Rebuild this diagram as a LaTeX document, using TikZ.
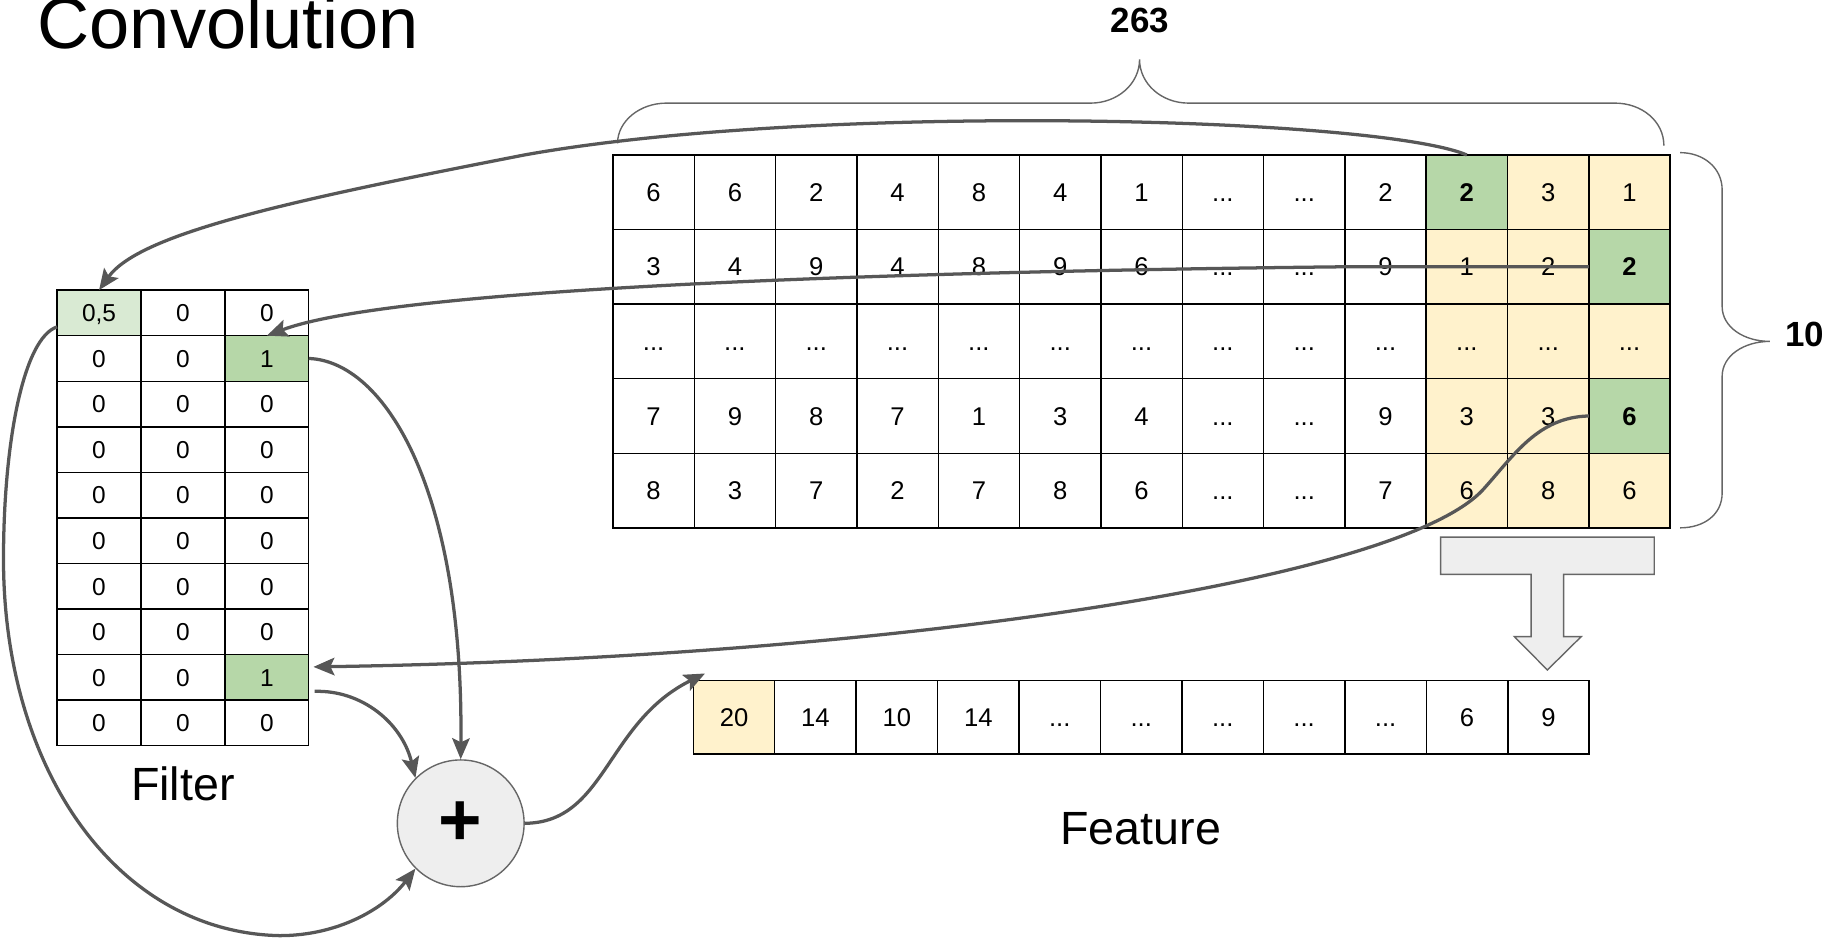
\documentclass[tikz,border=0pt]{standalone}
\usepackage{fontspec}
\setmainfont{Liberation Sans}
\usetikzlibrary{arrows.meta,calc}
\definecolor{hitgreen}{HTML}{B6D7A8}
\definecolor{softgreen}{HTML}{D9EAD3}
\definecolor{sand}{HTML}{FFF2CC}
\definecolor{lightgrey}{HTML}{EEEEEE}
\definecolor{edgegrey}{HTML}{666666}
\definecolor{wiregrey}{HTML}{575757}
\newcommand{\ddd}{...}
\tikzset{
  cell/.style={draw, line width=1.2pt, inner sep=0pt, outer sep=0pt},
  bigcell/.style={cell, minimum width=69.8pt, minimum height=64pt, text height=15.7pt, text depth=0pt, font=\fontsize{22}{22}\selectfont},
  smallcell/.style={cell, minimum width=72pt, minimum height=39.1pt, text height=15pt, text depth=0pt, font=\fontsize{21}{21}\selectfont},
  wc/.style={fill=white}, yc/.style={fill=sand}, gc/.style={fill=hitgreen}, lc/.style={fill=softgreen},
  wire/.style={draw=wiregrey, line width=2.8pt, -{Stealth[length=18pt,width=15pt,inset=3.5pt]}},
  bracket/.style={draw=edgegrey, line width=1.2pt},
  caption/.style={font=\fontsize{40}{40}\selectfont},
  sizelabel/.style={font=\fontsize{30}{30}\selectfont\bfseries, inner sep=0pt}
}
\begin{document}
\begin{tikzpicture}[x=1pt,y=-1pt]
            \useasboundingbox (0,0) rectangle (1568,805);
            \node[anchor=base west, inner sep=0pt, font=\fontsize{62}{62}\selectfont] (title) at (32,42) {Convolution};
            % input
            \foreach \rowlist [count=\r] in {
              {6/wc,6/wc,2/wc,4/wc,8/wc,4/wc,1/wc,\ddd/wc,\ddd/wc,2/wc,\textbf{2}/gc,3/yc,1/yc},
              {3/wc,4/wc,9/wc,4/wc,8/wc,9/wc,6/wc,\ddd/wc,\ddd/wc,9/wc,1/yc,2/yc,\textbf{2}/gc},
              {\ddd/wc,\ddd/wc,\ddd/wc,\ddd/wc,\ddd/wc,\ddd/wc,\ddd/wc,\ddd/wc,\ddd/wc,\ddd/wc,\ddd/yc,\ddd/yc,\ddd/yc},
              {7/wc,9/wc,8/wc,7/wc,1/wc,3/wc,4/wc,\ddd/wc,\ddd/wc,9/wc,3/yc,3/yc,\textbf{6}/gc},
              {8/wc,3/wc,7/wc,2/wc,7/wc,8/wc,6/wc,\ddd/wc,\ddd/wc,7/wc,6/yc,8/yc,6/yc}}
              \foreach \v/\s [count=\c] in \rowlist
                \node[bigcell,\s] (g-\r-\c) at ({526+69.8*(\c-0.5)},{133+64*(\r-0.5)}) {\v};
            % filter
            \foreach \rowlist [count=\r] in {
              {{0,5}/lc,0/wc,0/wc}, {0/wc,0/wc,1/gc}, {0/wc,0/wc,0/wc}, {0/wc,0/wc,0/wc}, {0/wc,0/wc,0/wc},
              {0/wc,0/wc,0/wc}, {0/wc,0/wc,0/wc}, {0/wc,0/wc,0/wc}, {0/wc,0/wc,1/gc}, {0/wc,0/wc,0/wc}}
              \foreach \v/\s [count=\c] in \rowlist
                \node[smallcell,\s] (f-\r-\c) at ({49+72*(\c-0.5)},{249+39.1*(\r-0.5)}) {\v};
            % feature
            \foreach \v/\s [count=\c] in {20/yc,14/wc,10/wc,14/wc,\ddd/wc,\ddd/wc,\ddd/wc,\ddd/wc,\ddd/wc,6/wc,9/wc}
              \node[bigcell,minimum height=63pt,\s] (h-\c) at ({595+69.9*(\c-0.5)},615.5) {\v};
            \node[caption] (filterlabel) at (157,673) {Filter};
            \node[caption] (featurelabel) at (979,711) {Feature};
            \node[circle, draw=edgegrey, fill=lightgrey, line width=1.2pt, minimum size=108.8pt, inner sep=0pt] (sum) at (395.4,706.6) {\fontsize{64}{64}\selectfont\bfseries +};
            % braces
            \draw[bracket] (530,123) .. controls (530,104) and (549,88.5) .. (572,88.5) -- (936,88.5)
              .. controls (959,88.5) and (978,72) .. (978,51) .. controls (978,72) and (997,88.5) .. (1020,88.5)
              -- (1386,88.5) .. controls (1409,88.5) and (1428,104) .. (1428,125);
            \node[sizelabel] (width) at (978.5,18) {263};
            \draw[bracket] (1442,131) .. controls (1462,131) and (1478,144) .. (1478,163) -- (1478,263)
              .. controls (1478,281) and (1497,293) .. (1519,293) .. controls (1497,293) and (1478,305) .. (1478,323)
              -- (1478,423) .. controls (1478,442) and (1462,453) .. (1442,453);
            \node[sizelabel, anchor=west] (height) at (1532,287) {10};
            % block arrow
            \draw[draw=edgegrey, fill=lightgrey, line width=1.2pt] (1236.4,461) -- (1419.7,461) -- (1419.7,493) -- (1342,493)
              -- (1342,546.4) -- (1357,546.4) -- (1328,575) -- (1299.7,546.4) -- (1314,546.4) -- (1314,493) -- (1236.4,493) -- cycle;
            % connectors
            \draw[wire] (g-1-11.north) .. controls (1180,100) and (700,88) .. (450,133)
              .. controls (250,172) and (120,200) .. (f-1-1.north);
            \draw[wire] (g-2-13.west) -- (1150,229) .. controls (700,234) and (330,250) .. (f-2-3.north);
            \draw[wire] (g-4-13.west) .. controls (1320,358) and (1300,390) .. (1273,420)
              .. controls (1200,500) and (750,565) .. ($(f-9-3.east)+(4,-9)$);
            \draw[wire] (f-2-3.east) .. controls (330,310) and (398,420) .. (sum.north);
            \draw[wire] ($(f-9-3.east)+(5,12)$) .. controls (310,592) and (345,620) .. (sum.north west);
            \draw[wire] ($(f-1-1.west)+(0,12)$) .. controls (20,290) and (3,380) .. (3,480)
              .. controls (3,660) and (100,800) .. (240,803) .. controls (290,803) and (330,780) .. (sum.south west);
            \draw[wire] (sum.east) .. controls (520,706) and (520,620) .. ($(h-1.north west)+(10,-6)$);
\end{tikzpicture}
\end{document}
